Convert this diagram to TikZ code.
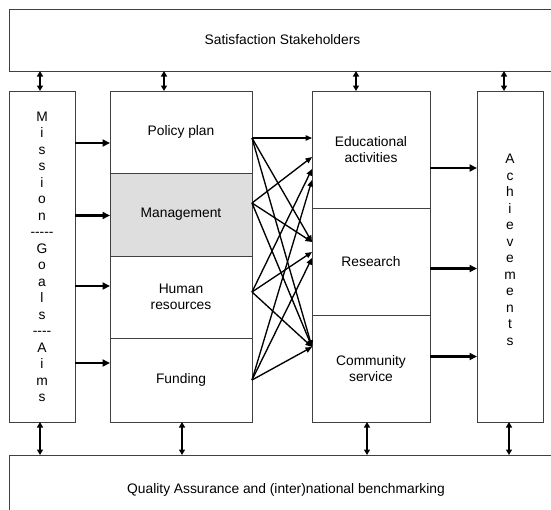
\documentclass[tikz,border=0pt]{standalone}
\usepackage{fontspec}
\setmainfont{Liberation Sans}
\usetikzlibrary{arrows.meta,calc}
\newcommand{\dsh}{\mbox{-}}
\begin{document}
\begin{tikzpicture}[x=1pt,y=-1pt,
  box/.style={draw=black!75,line width=0.8pt,inner sep=0pt,outer sep=0pt,anchor=north west,
    align=center,font=\fontsize{13.8}{16}\selectfont},
  vtext/.style={inner sep=0pt,align=center,font=\fontsize{13.8}{16.5}\selectfont},
  heavyarrow/.style={line width=2.8pt,-{Triangle[length=7.5pt,width=7pt]}},
  crossarrow/.style={line width=1.35pt,-{Triangle[length=6.5pt,width=5.5pt]}},
  dblarrow/.style={line width=1.9pt,{Triangle[length=5.5pt,width=6pt]}-{Triangle[length=5.5pt,width=6pt]}}
]
\useasboundingbox (0,0) rectangle (551,509);
\clip (0,0) rectangle (551,509);

% outer bands
\node[box,minimum width=547pt,minimum height=62pt] (top) at (9,9) {Satisfaction Stakeholders};
\node[box,minimum width=554pt,minimum height=70pt] (bottom) at (9,455) {Quality Assurance and (inter)national benchmarking};

% columns
\node[box,minimum width=66pt,minimum height=331pt] (mission) at (9,91) {};
\node[vtext] (missiontext) at (42,257)
  {M\\i\\s\\s\\i\\o\\n\\\dsh\dsh\dsh\dsh\dsh\\G\\o\\a\\l\\s\\\dsh\dsh\dsh\dsh\\A\\i\\m\\s};
\node[box,minimum width=142pt,minimum height=82pt] (policy) at (110,91) {Policy plan};
\node[box,minimum width=142pt,minimum height=83pt,fill=black!13] (management) at (110,173) {Management};
\node[box,minimum width=142pt,minimum height=82pt] (human) at (110,256) {Human\\resources};
\node[box,minimum width=142pt,minimum height=84pt] (funding) at (110,338) {Funding};
\node[box,minimum width=118pt,minimum height=117pt] (edu) at (312,91) {Educational\\activities};
\node[box,minimum width=118pt,minimum height=107pt] (research) at (312,208) {Research};
\node[box,minimum width=118pt,minimum height=107pt] (community) at (312,315) {Community\\service};
\node[box,minimum width=66pt,minimum height=331pt] (ach) at (477,91) {};
\node[vtext] (achtext) at (510,250) {A\\c\\h\\i\\e\\v\\e\\m\\e\\n\\t\\s};

% double arrows to top band
\draw[dblarrow] ($(mission.north west)+(31,0)$) -- ($(mission.north west |- top.south)+(31,0)$);
\draw[dblarrow] ($(policy.north west)+(54,0)$) -- ($(policy.north west |- top.south)+(54,0)$);
\draw[dblarrow] ($(edu.north west)+(44,0)$) -- ($(edu.north west |- top.south)+(44,0)$);
\draw[dblarrow] ($(ach.north west)+(27,0)$) -- ($(ach.north west |- top.south)+(27,0)$);

% double arrows to bottom band
\draw[dblarrow] ($(mission.south west)+(31,0)$) -- ($(mission.south west |- bottom.north)+(31,0)$);
\draw[dblarrow] ($(funding.south west)+(72,0)$) -- ($(funding.south west |- bottom.north)+(72,0)$);
\draw[dblarrow] ($(community.south west)+(55,0)$) -- ($(community.south west |- bottom.north)+(55,0)$);
\draw[dblarrow] ($(ach.south west)+(32,0)$) -- ($(ach.south west |- bottom.north)+(32,0)$);

% mission -> inputs
\draw[heavyarrow] ($(policy.west -| mission.east)+(0,11)$) -- ($(policy.west)+(0,11)$);
\draw[heavyarrow] ($(management.west -| mission.east)+(0,1)$) -- ($(management.west)+(0,1)$);
\draw[heavyarrow] ($(human.west -| mission.east)+(0,-11)$) -- ($(human.west)+(0,-11)$);
\draw[heavyarrow] ($(funding.west -| mission.east)+(0,-17)$) -- ($(funding.west)+(0,-17)$);

% outputs -> achievements
\draw[heavyarrow] ($(edu.east)+(0,18.5)$) -- ($(edu.east -| ach.west)+(0,18.5)$);
\draw[heavyarrow] ($(research.east)+(0,7)$) -- ($(research.east -| ach.west)+(0,7)$);
\draw[heavyarrow] ($(community.east)+(0,-12)$) -- ($(community.east -| ach.west)+(0,-12)$);

% crossing arrows
\coordinate (sp) at ($(policy.east)+(0,6)$);
\coordinate (sm) at ($(management.east)+(0,-11.5)$);
\coordinate (sh) at ($(human.east)+(0,-5)$);
\coordinate (sf) at ($(funding.east)+(0,0)$);
\coordinate (e0) at ($(edu.west)+(0,-11.5)$);
\coordinate (e1) at ($(edu.west)+(0,7.5)$);
\coordinate (e2) at ($(edu.west)+(0,19.5)$);
\coordinate (e3) at ($(edu.west)+(0,30.5)$);
\coordinate (r0) at ($(research.west)+(0,-19.5)$);
\coordinate (r1) at ($(research.west)+(0,-9.5)$);
\coordinate (r2) at ($(research.west)+(0,-3.5)$);
\coordinate (c0) at ($(community.west)+(0,-21.5)$);
\foreach \s/\t in {sp/e0,sp/r0,sp/c0,sm/e1,sm/r0,sm/c0,sh/e2,sh/r1,sh/c0,sf/e3,sf/r2,sf/c0}
  \draw[crossarrow] (\s) -- (\t);
\end{tikzpicture}
\end{document}
